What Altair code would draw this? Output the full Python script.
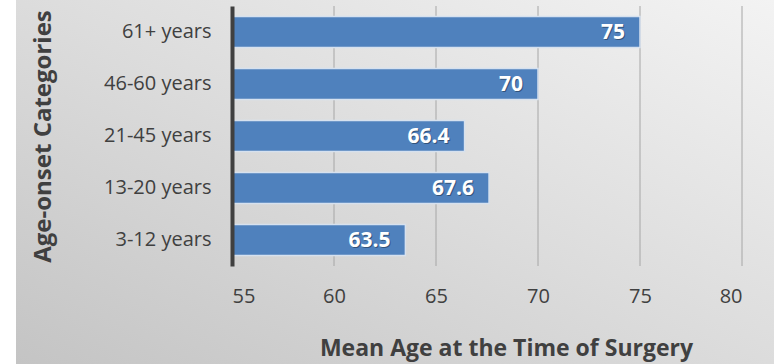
import altair as alt
import pandas as pd

categories = ["61+ years", "46-60 years", "21-45 years", "13-20 years", "3-12 years"]
values = [75, 70, 66.4, 67.6, 63.5]
labels = ["75", "70", "66.4", "67.6", "63.5"]
grid_ticks = [60, 65, 70, 75, 80]

df = pd.DataFrame({"cat": categories, "val": values, "lab": labels})
grid_df = pd.DataFrame({"g": grid_ticks})
bg_df = pd.DataFrame({"k": [0]})

FONT = "Open Sans"
xscale = alt.Scale(domain=[55, 80], zero=False, nice=False)

bg = alt.Chart(bg_df).mark_rect(
    clip=False,
    fill=alt.Gradient(
        gradient="linear",
        stops=[alt.GradientStop(color="#f3f3f3", offset=0),
               alt.GradientStop(color="#dcdcdc", offset=0.5),
               alt.GradientStop(color="#c4c4c4", offset=1)],
        x1=1, y1=0, x2=0, y2=1,
    ),
).encode(
    x=alt.value(-216), x2=alt.value(542), y=alt.value(-6), y2=alt.value(358)
)

grid = alt.Chart(grid_df).mark_rule(color="#a6a6a6", strokeWidth=1).encode(
    x=alt.X("g:Q", scale=xscale),
    y=alt.value(0), y2=alt.value(260),
)

bars = alt.Chart(df).mark_bar(
    color="#4f81bd", stroke="#d6e1ef", strokeWidth=1.5
).encode(
    x=alt.X("val:Q", scale=xscale,
            axis=alt.Axis(values=grid_ticks + [55], grid=False, domain=False, ticks=False,
                          labelFontSize=20, labelColor="#404040", labelFont=FONT,
                          labelPadding=20, zindex=1,
                          title="Mean Age at the Time of Surgery",
                          titleFont=FONT, titleFontSize=23, titleFontWeight="bold",
                          titleColor="#404040", titleX=274, titleY=89,
                          titleBaseline="alphabetic", titleAnchor="middle")),
    x2=alt.datum(55),
    y=alt.Y("cat:N", sort=categories, scale=alt.Scale(paddingInner=0.4, paddingOuter=0.2),
            axis=alt.Axis(domain=True, domainColor="#404040", domainWidth=4,
                          ticks=False, grid=False,
                          labelFontSize=20, labelColor="#404040", labelFont=FONT,
                          labelPadding=21, zindex=1,
                          title="Age-onset Categories",
                          titleFont=FONT, titleFontSize=24, titleFontWeight="bold",
                          titleColor="#404040", titleX=-189, titleY=130,
                          titleAngle=-90, titleBaseline="middle", titleAnchor="middle")),
)

shadow = alt.Chart(df).mark_text(
    align="right", baseline="middle", dx=-14, dy=1.5, font=FONT, fontSize=21,
    fontWeight="bold", color="#000000", opacity=0.35
).encode(
    x=alt.X("val:Q", scale=xscale), y=alt.Y("cat:N", sort=categories), text="lab:N"
)

text = alt.Chart(df).mark_text(
    align="right", baseline="middle", dx=-15, dy=0.5, font=FONT, fontSize=21,
    fontWeight="bold", color="#ffffff"
).encode(
    x=alt.X("val:Q", scale=xscale), y=alt.Y("cat:N", sort=categories), text="lab:N"
)

chart = alt.layer(bg, grid, bars, shadow, text).properties(
    width=510, height=260,
    autosize=alt.AutoSizeParams(type="none"),
    padding={"left": 232, "top": 6, "right": 32, "bottom": 98},
    background="#ffffff",
).configure_view(stroke=None)

chart.save("out.html", embed_options={"renderer": "svg", "actions": False})
